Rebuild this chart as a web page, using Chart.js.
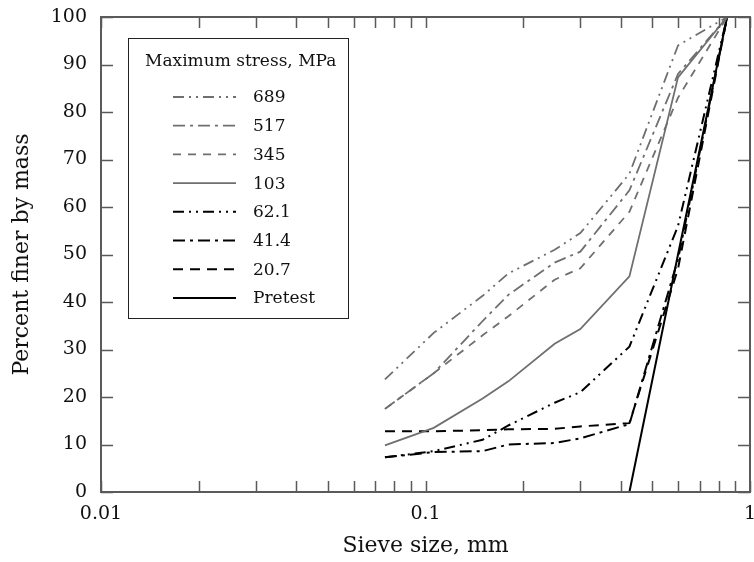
<!DOCTYPE html>
<html>
<head>
<meta charset="utf-8">
<script src="https://cdn.jsdelivr.net/npm/chart.js@4"></script>
<style>
  html, body { margin: 0; padding: 0; background: #fff; }
  canvas { display: block; }
</style>
</head>
<body>
<canvas id="gradChart" width="754" height="562"></canvas>
<script>
// sieve openings, mm
const sieveSizes = [0.075, 0.106, 0.15, 0.18, 0.25, 0.3, 0.425, 0.6, 0.85];

// percent finer by mass after loading to each maximum stress
const finer689 = [23.7, 33.5, 41.3, 46, 51, 54.5, 67, 94, 100];
const finer517 = [17.5, 25, 36, 41.5, 48.3, 50.6, 63.5, 88, 100];
const finer345 = [17.5, 25, 33, 37, 44.7, 47.1, 59, 83, 100];
const finer103 = [9.8, 13.5, 19.7, 23.3, 31.2, 34.3, 45.4, 87.3, 100];
const finer621 = [7.3, 8.6, 11, 14, 18.8, 21, 30.6, 56, 100];
const finer414 = [7.3, 8.4, 8.6, 10, 10.3, 11.3, 14.3, 49, 100];
const finer207 = [12.8, 12.8, 13, 13.2, 13.3, 13.8, 14.5, 47, 100];
const finerPretest = [null, null, null, null, null, null, 0, 50, 100];

const stressLabels = ["689", "517", "345", "103", "62.1", "41.4", "20.7", "Pretest"];
const legendTitle = "Maximum stress, MPa";
const xTickValues = [0.01, 0.02, 0.03, 0.04, 0.05, 0.06, 0.07, 0.08, 0.09,
  0.1, 0.2, 0.3, 0.4, 0.5, 0.6, 0.7, 0.8, 0.9, 1];
const xLabelValues = [0.01, 0.1, 1];

const FONT = "'DejaVu Serif', serif";
const GRAY = "#6f6f6f";
const BLACK = "#000000";

const series = [finer689, finer517, finer345, finer103, finer621, finer414, finer207, finerPretest];
const styles = [
  { color: GRAY, dash: [11, 5, 2, 5, 2, 5], width: 1.8 },
  { color: GRAY, dash: [12, 5, 3, 5], width: 1.8 },
  { color: GRAY, dash: [8, 7], width: 1.8 },
  { color: GRAY, dash: [], width: 1.8 },
  { color: BLACK, dash: [11, 5, 2, 5, 2, 5], width: 2 },
  { color: BLACK, dash: [12, 5, 3, 5], width: 2 },
  { color: BLACK, dash: [10, 7], width: 2 },
  { color: BLACK, dash: [], width: 2 },
];

function toPoints(values) {
  return sieveSizes.map((s, i) => ({ x: s, y: values[i] }));
}

const datasets = series.map((vals, i) => ({
  label: stressLabels[i],
  data: toPoints(vals),
  borderColor: styles[i].color,
  borderDash: styles[i].dash,
  borderWidth: styles[i].width,
  pointRadius: 0,
  tension: 0,
  fill: false,
  spanGaps: false,
}));

// frame and inward tick marks on all four sides
const frameTicks = {
  id: "frameTicks",
  afterDatasetsDraw(chart) {
    const { ctx, chartArea: a, scales } = chart;
    ctx.save();
    ctx.strokeStyle = "#5a5a5a";
    ctx.lineWidth = 1.5;
    ctx.beginPath();
    xTickValues.forEach((v) => {
      const px = Math.round(scales.x.getPixelForValue(v)) + 0.5;
      ctx.moveTo(px, a.bottom);
      ctx.lineTo(px, a.bottom - 11);
      ctx.moveTo(px, a.top);
      ctx.lineTo(px, a.top + 11);
    });
    for (let v = 0; v <= 100; v += 10) {
      const py = Math.round(scales.y.getPixelForValue(v)) + 0.5;
      ctx.moveTo(a.left, py);
      ctx.lineTo(a.left + 12, py);
      ctx.moveTo(a.right, py);
      ctx.lineTo(a.right - 12, py);
    }
    ctx.stroke();
    ctx.lineWidth = 2;
    ctx.strokeRect(a.left, a.top, a.right - a.left, a.bottom - a.top);
    ctx.restore();
  },
};

// boxed legend in the upper left of the plot
const boxLegend = {
  id: "boxLegend",
  afterDraw(chart) {
    const { ctx } = chart;
    const box = { x: 128.5, y: 38.5, w: 220, h: 280 };
    ctx.save();
    ctx.fillStyle = "#fff";
    ctx.fillRect(box.x, box.y, box.w, box.h);
    ctx.strokeStyle = "#222";
    ctx.lineWidth = 1;
    ctx.strokeRect(box.x, box.y, box.w, box.h);

    ctx.fillStyle = "#111";
    ctx.font = "17px " + FONT;
    ctx.textBaseline = "middle";
    ctx.fillText(legendTitle, 145, 62);

    chart.data.datasets.forEach((ds, i) => {
      const y = 97 + i * 28.7;
      ctx.strokeStyle = ds.borderColor;
      ctx.lineWidth = ds.borderWidth;
      ctx.setLineDash(ds.borderDash);
      ctx.beginPath();
      ctx.moveTo(173, y);
      ctx.lineTo(236, y);
      ctx.stroke();
      ctx.setLineDash([]);
      ctx.fillText(ds.label, 253, y + 1);
    });
    ctx.restore();
  },
};

new Chart(document.getElementById("gradChart"), {
  type: "line",
  data: { datasets },
  options: {
    responsive: false,
    animation: false,
    devicePixelRatio: 1,
    layout: { padding: { top: 17, right: 4, left: 0, bottom: 0 } },
    plugins: {
      legend: { display: false },
      tooltip: { enabled: false },
    },
    scales: {
      x: {
        type: "logarithmic",
        min: 0.01,
        max: 1,
        grid: { display: false, drawTicks: false },
        border: { display: false },
        afterBuildTicks: (scale) => {
          scale.ticks = xTickValues.map((v) => ({ value: v }));
        },
        afterFit: (scale) => {
          scale.height = 70;
          scale.paddingLeft = 0;
          scale.paddingRight = 0;
        },
        ticks: {
          autoSkip: false,
          maxRotation: 0,
          padding: 11,
          color: "#111",
          font: { family: FONT, size: 19 },
          callback: (value) => (xLabelValues.includes(value) ? String(value) : ""),
        },
        title: {
          display: true,
          text: "Sieve size, mm",
          color: "#111",
          font: { family: FONT, size: 22 },
          padding: { top: 0, bottom: 3 },
        },
      },
      y: {
        min: 0,
        max: 100,
        grid: { display: false, drawTicks: false },
        border: { display: false },
        afterFit: (scale) => {
          scale.width = 101;
          scale.paddingTop = 0;
          scale.paddingBottom = 0;
        },
        ticks: {
          stepSize: 10,
          padding: 14,
          color: "#111",
          font: { family: FONT, size: 19 },
        },
        title: {
          display: true,
          text: "Percent finer by mass",
          color: "#111",
          font: { family: FONT, size: 22 },
          padding: { top: 9, bottom: 0 },
        },
      },
    },
  },
  plugins: [frameTicks, boxLegend],
});
</script>
</body>
</html>
